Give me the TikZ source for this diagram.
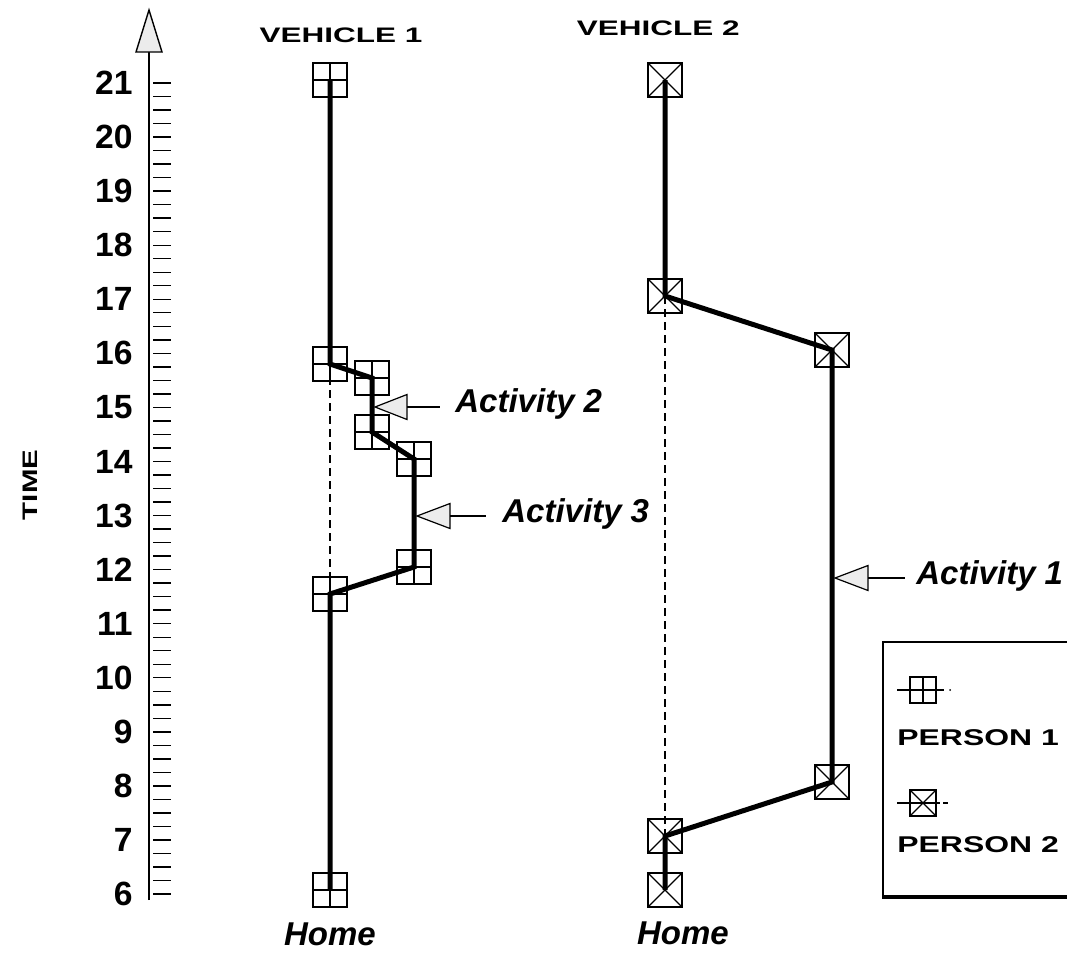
\documentclass[tikz,border=0pt]{standalone}
\usepackage{fontspec}
\setmainfont{Liberation Sans}
\newfontfamily\widefont[FakeStretch=1.4]{Liberation Sans}
\newfontfamily\widerfont[FakeStretch=1.5]{Liberation Sans}
\begin{document}
\begin{tikzpicture}[x=0.5pt,y=-0.5pt,
  box/.style={draw, line width=0.6pt, minimum size=17pt, inner sep=0pt},
  pone/.style={box, path picture={\draw[line width=0.6pt]
      (path picture bounding box.north) -- (path picture bounding box.south)
      (path picture bounding box.west) -- (path picture bounding box.east);}},
  ptwo/.style={box, path picture={\draw[line width=0.6pt]
      (path picture bounding box.north west) -- (path picture bounding box.south east)
      (path picture bounding box.south west) -- (path picture bounding box.north east);}},
  route/.style={line width=2.5pt, line join=miter},
  homeline/.style={line width=0.6pt, dash pattern=on 4pt off 2.5pt},
  actri/.style={draw, line width=0.6pt, fill=gray!15},
  thin/.style={line width=0.6pt},
  numlab/.style={anchor=east, inner sep=0pt, font=\fontsize{16.8pt}{20pt}\selectfont\bfseries},
  actlab/.style={inner sep=0pt, font=\fontsize{16.5pt}{20pt}\selectfont\bfseries\itshape},
  widelab/.style={inner sep=0pt, font=\widefont\bfseries},
  headlab/.style={inner sep=0pt, font=\widerfont\bfseries\fontsize{10.5pt}{12pt}\selectfont}
]
\useasboundingbox (0,0) rectangle (1067,953);

% time axis
\coordinate (axbot) at (149,900);
\coordinate (axtop) at (149,52);
\draw[line width=1pt] (axbot) -- (axtop);
\draw[line width=0.7pt, fill=gray!15] (136,52) -- (149,10) -- (162,52) -- cycle;
\foreach \i in {0,...,60}
  \draw[line width=0.7pt] (153,{83+\i*13.5175}) -- (171,{83+\i*13.5175});
\foreach \t in {6,...,21}
  \node[numlab] (n\t) at (133,{83+(21-\t)*54.07}) {\t};
\node[widelab, rotate=90, font=\widefont\bfseries\fontsize{10.5pt}{12pt}\selectfont] (time) at (30,485) {TIME};

% headings
\node[headlab] (veh1) at (341,35) {VEHICLE 1};
\node[headlab, anchor=east] (veh2) at (740,28) {VEHICLE 2};

% vehicle 1 (person 1)
\node[pone] (a21)  at (330,80) {};
\node[pone] (a1575) at (330,364) {};
\node[pone] (a155) at (372,378) {};
\node[pone] (a145) at (372,432) {};
\node[pone] (a14)  at (414,459) {};
\node[pone] (a12)  at (414,567) {};
\node[pone] (a115) at (330,594) {};
\node[pone] (a6)   at (330,890) {};
\draw[homeline] (a1575.center) -- (a115.center);
\draw[route] (a21.center) -- (a1575.center) -- (a155.center) -- (a145.center)
  -- (a14.center) -- (a12.center) -- (a115.center) -- (a6.center);

% vehicle 2 (person 2)
\node[ptwo] (b21) at (665,80) {};
\node[ptwo] (b17) at (665,296) {};
\node[ptwo] (b16) at (832,350) {};
\node[ptwo] (b8)  at (832,782) {};
\node[ptwo] (b7)  at (665,836) {};
\node[ptwo] (b6)  at (665,890) {};
\draw[homeline] (b17.center) -- (b7.center);
\draw[route] (b21.center) -- (b17.center) -- (b16.center) -- (b8.center)
  -- (b7.center) -- (b6.center);

% Home labels
\node[actlab] (home1) at (330,934) {Home};
\node[actlab] (home2) at (683,933) {Home};

% activity pointers
\coordinate (t2) at (375,407);
\coordinate (t2b) at (407,407);
\coordinate (t2e) at (440,407);
\draw[actri] (t2) -- (407,394.5) -- (407,419.5) -- cycle;
\draw[thin] (t2b) -- (t2e);
\node[actlab, anchor=base west] (act2) at (455,412) {Activity 2};

\coordinate (t3) at (417,516);
\coordinate (t3b) at (450,516);
\coordinate (t3e) at (486,516);
\draw[actri] (t3) -- (450,503.5) -- (450,528.5) -- cycle;
\draw[thin] (t3b) -- (t3e);
\node[actlab, anchor=base west] (act3) at (502,522) {Activity 3};

\coordinate (t1) at (835,578);
\coordinate (t1b) at (868,578);
\coordinate (t1e) at (905,578);
\draw[actri] (t1) -- (868,565.5) -- (868,590.5) -- cycle;
\draw[thin] (t1b) -- (t1e);
\node[actlab, anchor=base west] (act1) at (916,584) {Activity 1};

% legend
\draw[line width=0.8pt] (1067,642) -- (883,642) -- (883,897);
\draw[line width=2pt] (882,897) -- (1067,897);
\node[pone, minimum size=13pt] (l1) at (923,690) {};
\coordinate (l1a) at (897,690);
\coordinate (l1b) at (944,690);
\draw[thin] (l1a) -- (l1b);
\fill (950,690) circle[radius=1];
\node[widelab, anchor=west, font=\widefont\bfseries\fontsize{11.4pt}{14pt}\selectfont] (p1) at (897,738) {PERSON 1};
\node[ptwo, minimum size=13pt] (l2) at (923,803) {};
\coordinate (l2a) at (897,803);
\coordinate (l2b) at (940,803);
\coordinate (l2c) at (943,803);
\coordinate (l2d) at (948,803);
\draw[thin] (l2a) -- (l2b);
\draw[thin] (l2c) -- (l2d);
\node[widelab, anchor=west, font=\widefont\bfseries\fontsize{11.4pt}{14pt}\selectfont] (p2) at (897,845) {PERSON 2};
\end{tikzpicture}
\end{document}
